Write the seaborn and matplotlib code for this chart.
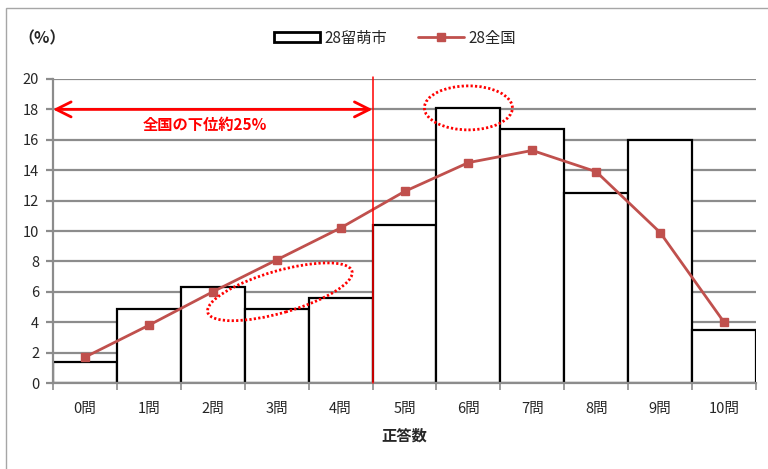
import matplotlib
matplotlib.use("Agg")
import matplotlib.pyplot as plt
from matplotlib.patches import Ellipse, Rectangle, Patch
from matplotlib.lines import Line2D
from matplotlib.transforms import IdentityTransform
import seaborn as sns
import pandas as pd

# 正答数ごとの割合（%）
categories = ["0問", "1問", "2問", "3問", "4問", "5問", "6問", "7問", "8問", "9問", "10問"]
rumoi = [1.4, 4.9, 6.3, 4.9, 5.6, 10.4, 18.1, 16.7, 12.5, 16.0, 3.5]
national = [1.7, 3.8, 6.0, 8.1, 10.2, 12.6, 14.5, 15.3, 13.9, 9.9, 4.0]
series_names = ["28留萌市", "28全国"]
y_ticks = [0, 2, 4, 6, 8, 10, 12, 14, 16, 18, 20]

lower_quarter_edge = 4.5  # 全国の下位約25%の境界
arrow_y = 18
note_text = "全国の下位約25%"

sns.set_theme(style="white")
plt.rcParams["font.family"] = ["Noto Sans CJK JP", "DejaVu Sans"]

W, H, DPI = 768, 469, 100
fig = plt.figure(figsize=(W / DPI, H / DPI), dpi=DPI)
ax = fig.add_axes([53 / W, 1 - 383 / H, (756 - 53) / W, (383 - 79) / H])

df = pd.DataFrame({"cat": categories, "rumoi": rumoi, "national": national})

grid_c = "#8C8C8C"
line_c = "#C0504D"

ax.set_axisbelow(True)
ax.yaxis.grid(True, color=grid_c, lw=1.6)

sns.barplot(data=df, x="cat", y="rumoi", ax=ax, width=1.0, color="white",
            edgecolor="black", linewidth=1.6, saturation=1, zorder=2)
ax.plot(range(len(categories)), national, color=line_c, lw=2, marker="s",
        markersize=6, zorder=4)

ax.set_xlim(-0.5, len(categories) - 0.5)
ax.set_ylim(0, 20)
ax.set_yticks(y_ticks)
ax.set_xlabel("正答数", fontsize=11, fontweight="bold", labelpad=8)
ax.set_ylabel("")

for s in ["top", "right"]:
    ax.spines[s].set_visible(False)
for s in ["left", "bottom"]:
    ax.spines[s].set_color(grid_c)
    ax.spines[s].set_linewidth(1.6)

ax.tick_params(axis="y", which="major", length=5, width=1.6, color=grid_c,
               labelsize=10.5, pad=5, left=True, direction="out")
ax.tick_params(axis="x", which="major", length=0, labelsize=10.5, pad=14)
ax.set_xticks([i + 0.5 for i in range(-1, len(categories))], minor=True)
ax.tick_params(axis="x", which="minor", length=5, width=1.2, color=grid_c,
               bottom=True, direction="out")

# 下位25%の境界線と矢印
ax.plot([lower_quarter_edge, lower_quarter_edge], [0, 20.1], color="red",
        lw=1.1, zorder=5, clip_on=False)
ax.annotate("", xy=(lower_quarter_edge, arrow_y), xytext=(-0.5, arrow_y),
            arrowprops=dict(arrowstyle="<->,head_length=0.9,head_width=0.45",
                            color="red", lw=2, shrinkA=0, shrinkB=0), zorder=5)
ax.text(1.88, 17.0, note_text, color="red", fontsize=11, fontweight="bold",
        ha="center", va="center", zorder=5)

# 点線の楕円（ピクセル単位の大きさ）
fig.canvas.draw()
for (cx, cy), w, h, ang in [((6.0, 18.1), 88, 44, 0), ((3.05, 6.0), 150, 42, 16)]:
    px, py = ax.transData.transform((cx, cy))
    e = Ellipse((px, py), w, h, angle=ang, transform=IdentityTransform(),
                fill=False, edgecolor="red", lw=2, linestyle=(0, (0.8, 0.8)),
                zorder=6)
    fig.add_artist(e)

# 凡例
handles = [Patch(facecolor="white", edgecolor="black", lw=2),
           Line2D([0], [0], color=line_c, lw=2, marker="s", markersize=6)]
fig.legend(handles, series_names, loc="center", bbox_to_anchor=(395 / W, 1 - 38 / H),
           ncol=2, frameon=False, fontsize=11, handlelength=3.0,
           handleheight=0.55, columnspacing=2.0, handletextpad=0.3)

fig.text(42 / W, 1 - 38 / H, "（%）", fontsize=11.5, fontweight="bold",
         ha="center", va="center")

# 外枠
fig.add_artist(Rectangle((6 / W, -0.1), 1.5, 1 - 8 / H + 0.1,
                         transform=fig.transFigure, fill=False,
                         edgecolor="#A6A6A6", lw=1))

fig.savefig("out.png", dpi=DPI)
